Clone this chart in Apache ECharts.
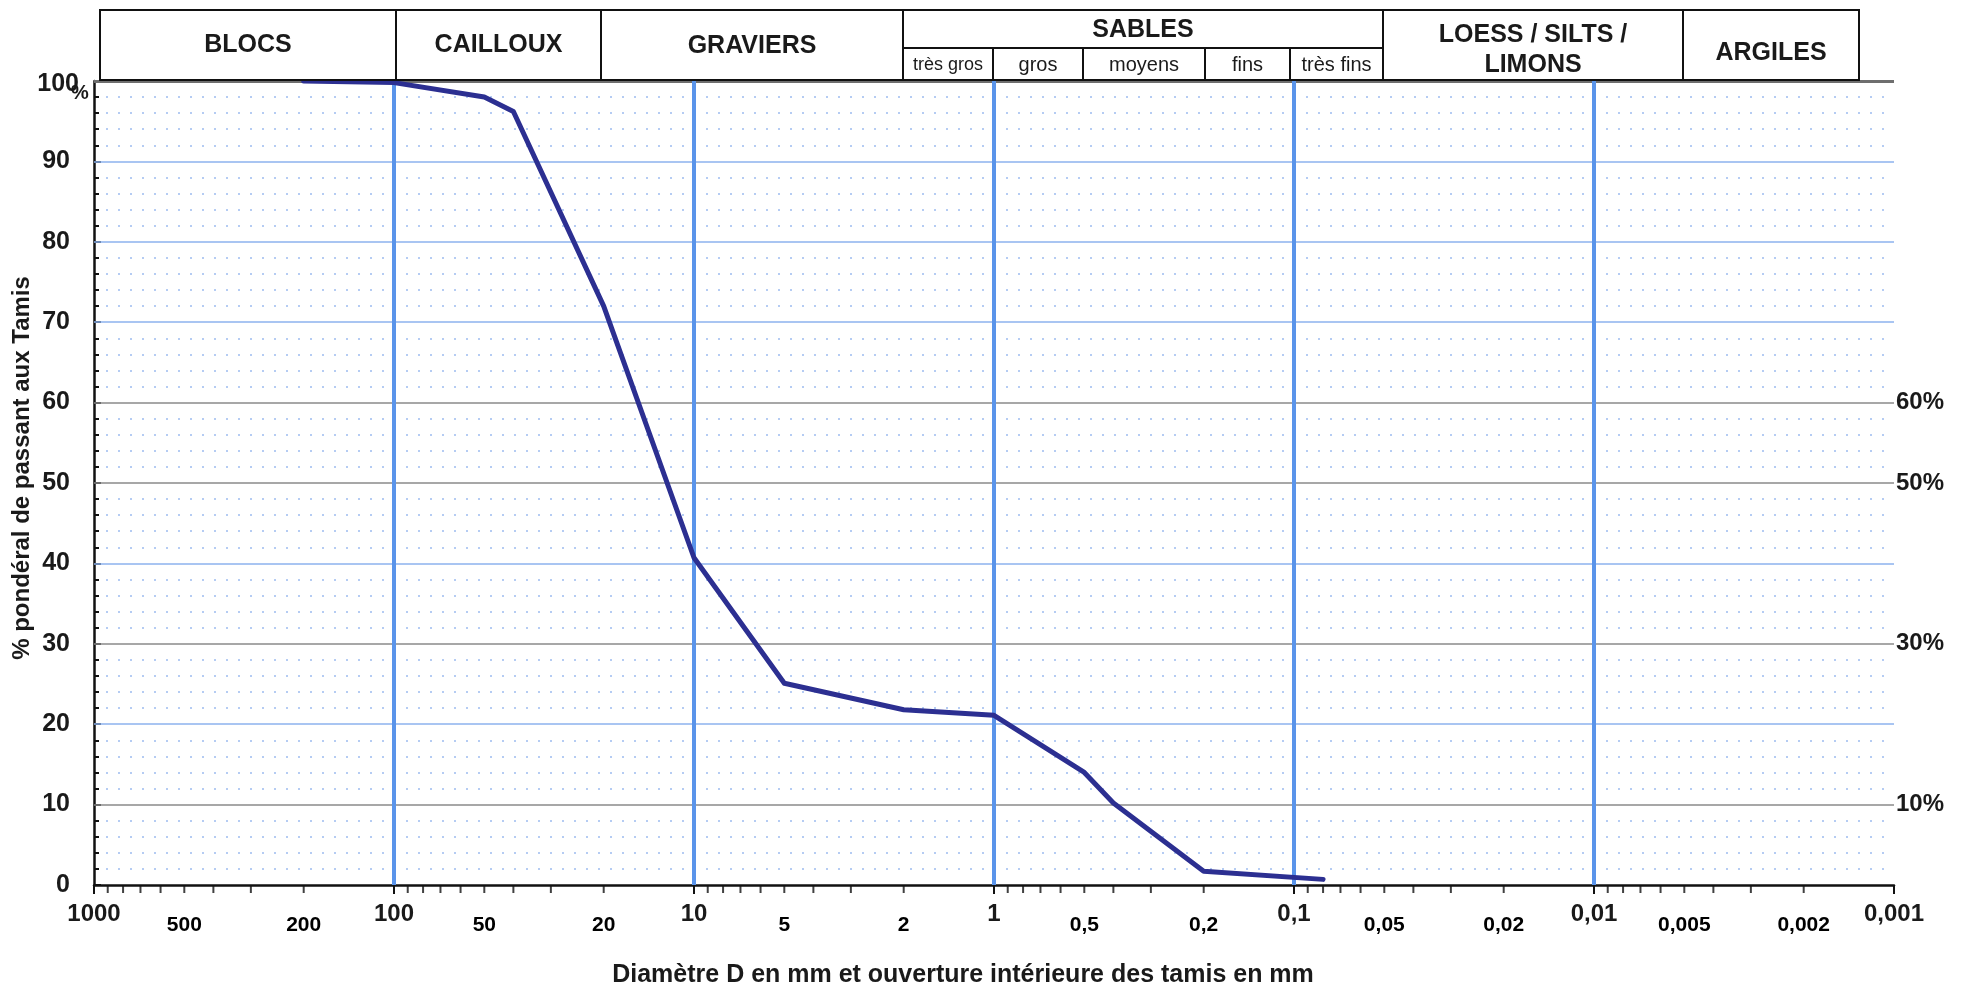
<!DOCTYPE html>
<html><head><meta charset="utf-8">
<script src="https://cdn.jsdelivr.net/npm/echarts@6/dist/echarts.min.js"></script>
<style>html,body{margin:0;padding:0;background:#fff}#c{width:1963px;height:991px}</style>
</head><body><div id="c"></div>
<script>
// ---- data ----
const sizesMm = [200, 100, 50, 40, 20, 10, 5, 2, 1, 0.5, 0.4, 0.2, 0.08];
const passingPct = [100, 99.8, 98, 96.2, 72, 40.7, 25.1, 21.8, 21.1, 14, 10.2, 1.7, 0.7];
const decadeValues = [0.001, 0.01, 0.1, 1, 10, 100];
const minorMultipliers = [2, 3, 4, 5, 6, 7, 8, 9];
const minorLabelValues = [500, 200, 50, 20, 5, 2, 0.5, 0.2, 0.05, 0.02, 0.005, 0.002];
const blueVerticals = [100, 10, 1, 0.1, 0.01, 0.001];
const grayLines = [10, 30, 50, 60];
const grayLineLabels = ['10%', '30%', '50%', '60%'];
const blueLines = [20, 40, 70, 80, 90];
const headerTop = ['BLOCS', 'CAILLOUX', 'GRAVIERS', 'SABLES', 'LOESS / SILTS /\nLIMONS', 'ARGILES'];
const sablesSub = ['très gros', 'gros', 'moyens', 'fins', 'très fins'];
const xTitle = 'Diamètre D en mm et ouverture intérieure des tamis en mm';
const yTitle = '% pondéral de passant aux Tamis';

// ---- helpers ----
const FONT = "'Liberation Sans', Arial, sans-serif";
function fmt(v) { return String(+(+v).toPrecision(6)).replace('.', ','); }
const curve = sizesMm.map((s, i) => [s, passingPct[i]]);
const minorTicks = [];
decadeValues.forEach(d => minorMultipliers.forEach(m => minorTicks.push([+(d * m).toPrecision(6), 0])));
const minorLabels = minorLabelValues.map(v => [v, 0]);

// ---- header layout (pixels) ----
const hx = [100, 396, 601, 903, 1383, 1683, 1859];
const subX = [903, 993, 1083, 1205, 1290, 1383];
const hTop = 10, hBot = 80, hMid = 48;
const graphics = [];
for (let i = 0; i < headerTop.length; i++) {
  graphics.push({ type: 'rect', shape: { x: hx[i], y: hTop, width: hx[i + 1] - hx[i], height: hBot - hTop },
    style: { fill: '#fff', stroke: '#111', lineWidth: 2 }, z: 10 });
}
graphics.push({ type: 'line', shape: { x1: hx[3], y1: hMid, x2: hx[4], y2: hMid }, style: { stroke: '#111', lineWidth: 2 }, z: 11 });
for (let i = 1; i < subX.length - 1; i++) {
  graphics.push({ type: 'line', shape: { x1: subX[i], y1: hMid, x2: subX[i], y2: hBot }, style: { stroke: '#111', lineWidth: 2 }, z: 11 });
}
const topTextY = [45, 45, 46, 30, 50, 53];
headerTop.forEach((t, i) => {
  graphics.push({ type: 'text', x: (hx[i] + hx[i + 1]) / 2, y: topTextY[i], z: 12,
    style: { text: t, fill: '#1a1a1a', font: 'bold 25px ' + FONT, textAlign: 'center', textVerticalAlign: 'middle', lineHeight: 30 } });
});
sablesSub.forEach((t, i) => {
  graphics.push({ type: 'text', x: (subX[i] + subX[i + 1]) / 2, y: 65, z: 12,
    style: { text: t, fill: '#1a1a1a', font: (i === 0 ? '18px ' : '20px ') + FONT, textAlign: 'center', textVerticalAlign: 'middle' } });
});
graphics.push({ type: 'text', x: 963, y: 975, z: 12,
  style: { text: xTitle, fill: '#1a1a1a', font: 'bold 25px ' + FONT, textAlign: 'center', textVerticalAlign: 'middle' } });
graphics.push({ type: 'text', x: 22, y: 468, rotation: Math.PI / 2, z: 12,
  style: { text: yTitle, fill: '#1a1a1a', font: 'bold 24px ' + FONT, textAlign: 'center', textVerticalAlign: 'middle' } });
// "100%" top label with lowered percent sign
graphics.push({ type: 'text', x: 79, y: 84, z: 12,
  style: { text: '100', fill: '#1a1a1a', font: 'bold 25px ' + FONT, textAlign: 'right', textVerticalAlign: 'middle' } });
graphics.push({ type: 'text', x: 71, y: 93, z: 12,
  style: { text: '%', fill: '#1a1a1a', font: 'bold 20px ' + FONT, textAlign: 'left', textVerticalAlign: 'middle' } });

// ---- mark lines ----
const hLines = [];
grayLines.forEach((v, i) => hLines.push({ yAxis: v, lineStyle: { color: '#8a8a8a', width: 1.6, type: 'solid' },
  label: { show: true, position: 'start', formatter: grayLineLabels[i], color: '#1a1a1a', fontSize: 24, fontWeight: 'bold', fontFamily: FONT, distance: 2 } }));
blueLines.forEach(v => hLines.push({ yAxis: v, lineStyle: { color: '#8cb2ee', width: 1.5, type: 'solid' }, label: { show: false } }));
hLines.push({ yAxis: 100, lineStyle: { color: '#6e6e6e', width: 3, type: 'solid' }, label: { show: false } });
const vLines = blueVerticals.map(v => ({ xAxis: v, lineStyle: { color: '#5a94ea', width: 4, type: 'solid' }, label: { show: false } }));

const chart = echarts.init(document.getElementById('c'), null, { renderer: 'canvas' });
chart.setOption({
  backgroundColor: '#ffffff',
  animation: false,
  grid: { left: 94, right: 69, top: 81, bottom: 106, containLabel: false },
  xAxis: {
    type: 'log', logBase: 10, min: 0.001, max: 1000, inverse: true, splitNumber: 6, interval: 1,
    axisLine: { show: true, onZero: false, lineStyle: { color: '#111', width: 2.5 } },
    axisTick: { show: true, length: 9, lineStyle: { color: '#111', width: 2 } },
    axisLabel: { show: true, fontSize: 24, fontWeight: 'bold', color: '#1a1a1a', fontFamily: FONT, margin: 17, formatter: fmt },
    splitLine: { show: false }, minorTick: { show: false }
  },
  yAxis: {
    type: 'value', min: 0, max: 100, interval: 10,
    axisLine: { show: true, lineStyle: { color: '#111', width: 2.5 } },
    axisTick: { show: true, inside: true, length: 7, lineStyle: { color: '#111', width: 2 } },
    minorTick: { show: true, splitNumber: 5, length: 5, lineStyle: { color: '#111', width: 2 } },
    minorSplitLine: { show: true, lineStyle: { color: '#9dbcef', width: 1.5, type: [2, 10] } },
    splitLine: { show: false },
    axisLabel: { fontSize: 25, fontWeight: 'bold', color: '#1a1a1a', fontFamily: FONT, margin: 24,
      formatter: v => v === 100 ? '' : String(v) }
  },
  graphic: graphics,
  series: [
    { type: 'line', data: [], silent: true, z: 1,
      markLine: { silent: true, symbol: ['none', 'none'], animation: false, data: hLines.concat(vLines) } },
    { type: 'scatter', data: minorTicks, silent: true, clip: false, z: 2,
      symbol: 'rect', symbolSize: [2, 8], symbolOffset: [0, 4], itemStyle: { color: '#111' } },
    { type: 'scatter', data: minorLabels, silent: true, clip: false, z: 2, symbolSize: 0,
      itemStyle: { color: '#000', opacity: 1 },
      label: { show: true, position: 'bottom', distance: 30, formatter: p => fmt(p.value[0]),
        fontSize: 21, fontWeight: 'bold', color: '#000', opacity: 1, fontFamily: FONT } },
    { type: 'line', data: curve, showSymbol: false, symbol: 'none', z: 5, silent: true,
      lineStyle: { color: '#2c2f91', width: 5, cap: 'round', join: 'round' } }
  ]
});
</script></body></html>
